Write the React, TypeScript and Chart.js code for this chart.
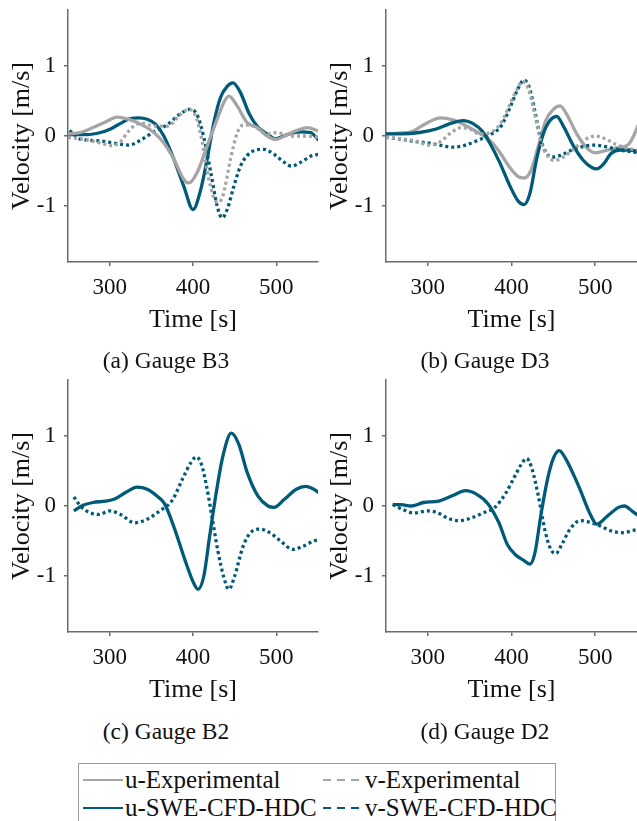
import React, { useEffect, useRef } from "react";
import { Chart, registerables } from "chart.js";
Chart.register(...registerables);

type Pt = [number, number];

const X_TICKS = [300, 400, 500];
const Y_TICKS = [-1, 0, 1];
const X_TITLE = "Time [s]";
const Y_TITLE = "Velocity [m/s]";

const TEAL = "#005a78";
const GRAY = "#a5a5a5";
const FONT = "'Liberation Serif', 'Times New Roman', serif";

// (a) Gauge B3
const A_U_EXP: Pt[] = [[250,0.03],[265,0.05],[280,0.12],[295,0.2],[309,0.27],[322,0.24],[337,0.17],[353,0.05],[365,-0.1],[377,-0.33],[389,-0.62],[395,-0.67],[405,-0.52],[417,-0.14],[429,0.24],[437,0.48],[443,0.57],[453,0.43],[465,0.19],[477,0.12],[489,0.0],[499,-0.05],[513,0.02],[525,0.08],[537,0.12],[551,0.07]];
const A_V_EXP: Pt[] = [[250,-0.02],[270,-0.05],[289,-0.1],[303,-0.14],[313,-0.08],[322,0.06],[331,0.16],[340,0.18],[353,0.14],[369,0.14],[385,0.31],[395,0.38],[404,0.26],[411,-0.08],[417,-0.5],[425,-0.88],[430,-0.95],[436,-0.85],[445,-0.33],[453,0.04],[461,0.16],[473,0.14],[489,0.03],[501,0.05],[517,0.0],[535,0.0],[551,-0.02]];
const A_U_SWE: Pt[] = [[250,0.02],[273,0.02],[289,0.05],[301,0.1],[313,0.18],[325,0.25],[335,0.26],[345,0.24],[355,0.17],[365,0.0],[377,-0.33],[389,-0.72],[400,-1.05],[409,-0.78],[417,-0.33],[425,0.19],[433,0.55],[441,0.71],[448,0.76],[457,0.62],[467,0.33],[477,0.14],[489,0.03],[499,-0.04],[513,0.02],[529,0.06],[541,0.05],[551,-0.06]];
const A_V_SWE: Pt[] = [[252,0.08],[262,-0.03],[275,-0.06],[289,-0.07],[305,-0.1],[323,-0.13],[337,-0.06],[353,0.06],[369,0.16],[385,0.32],[396,0.38],[405,0.3],[413,-0.02],[421,-0.5],[429,-1.0],[435,-1.17],[441,-1.05],[449,-0.72],[457,-0.43],[465,-0.28],[475,-0.2],[485,-0.19],[497,-0.26],[510,-0.38],[518,-0.43],[530,-0.37],[541,-0.29],[551,-0.26]];

// (b) Gauge D3
const B_U_EXP: Pt[] = [[250,0.03],[265,0.04],[280,0.06],[298,0.18],[315,0.26],[330,0.23],[345,0.15],[360,0.05],[375,-0.07],[387,-0.25],[398,-0.45],[408,-0.58],[415,-0.6],[423,-0.5],[432,-0.15],[441,0.22],[450,0.38],[458,0.43],[466,0.31],[478,0.03],[490,-0.17],[500,-0.24],[515,-0.2],[530,-0.16],[540,-0.12],[546,0.0],[552,0.17]];
const B_V_EXP: Pt[] = [[250,-0.02],[268,-0.04],[285,-0.07],[302,-0.13],[315,-0.08],[328,0.05],[340,0.12],[350,0.1],[362,0.03],[375,0.05],[388,0.2],[398,0.45],[406,0.65],[413,0.78],[420,0.68],[428,0.3],[435,-0.08],[443,-0.28],[452,-0.35],[462,-0.3],[475,-0.18],[488,-0.05],[500,0.0],[512,-0.04],[525,-0.12],[540,-0.18],[552,-0.2]];
const B_U_SWE: Pt[] = [[250,0.03],[270,0.03],[290,0.05],[310,0.1],[325,0.17],[342,0.22],[355,0.17],[365,0.07],[374,-0.1],[386,-0.38],[398,-0.71],[408,-0.93],[415,-0.98],[422,-0.82],[430,-0.33],[438,0.03],[446,0.22],[454,0.28],[462,0.14],[474,-0.14],[486,-0.35],[496,-0.45],[502,-0.47],[510,-0.4],[519,-0.25],[530,-0.2],[540,-0.2],[552,-0.22]];
const B_V_SWE: Pt[] = [[250,-0.02],[265,-0.04],[280,-0.07],[300,-0.1],[318,-0.14],[330,-0.16],[345,-0.13],[360,-0.06],[375,0.02],[388,0.15],[398,0.4],[408,0.68],[415,0.8],[421,0.7],[428,0.35],[435,-0.05],[442,-0.25],[450,-0.3],[460,-0.27],[472,-0.2],[486,-0.15],[500,-0.13],[515,-0.16],[530,-0.2],[540,-0.22],[552,-0.24]];

// (c) Gauge B2
const C_U_SWE: Pt[] = [[257,-0.07],[268,0.01],[280,0.05],[295,0.07],[306,0.1],[320,0.2],[333,0.27],[345,0.24],[356,0.15],[366,0.03],[378,-0.33],[390,-0.76],[400,-1.08],[406,-1.19],[413,-1.0],[420,-0.43],[428,0.2],[436,0.72],[446,1.04],[455,0.88],[465,0.48],[478,0.14],[490,0.0],[497,-0.02],[510,0.1],[524,0.24],[535,0.28],[545,0.24],[552,0.18]];
const C_V_SWE: Pt[] = [[257,0.13],[265,0.0],[275,-0.09],[287,-0.12],[300,-0.07],[313,-0.12],[330,-0.24],[345,-0.19],[360,-0.07],[375,0.08],[388,0.4],[398,0.63],[404,0.7],[410,0.6],[416,0.3],[422,-0.1],[430,-0.65],[437,-1.02],[443,-1.19],[450,-1.0],[460,-0.58],[470,-0.37],[481,-0.33],[492,-0.38],[505,-0.5],[520,-0.62],[533,-0.57],[545,-0.5],[552,-0.48]];

// (d) Gauge D2
const D_U_SWE: Pt[] = [[258,0.02],[268,0.02],[280,0.0],[295,0.05],[313,0.07],[330,0.15],[345,0.22],[358,0.17],[372,0.03],[385,-0.24],[395,-0.55],[405,-0.7],[415,-0.78],[422,-0.83],[428,-0.67],[435,-0.14],[443,0.38],[450,0.68],[457,0.79],[465,0.67],[480,0.29],[495,-0.14],[502,-0.26],[515,-0.14],[528,-0.02],[535,0.0],[545,-0.08],[552,-0.14]];
const D_V_SWE: Pt[] = [[258,0.02],[270,-0.05],[283,-0.1],[300,-0.07],[312,-0.1],[325,-0.18],[338,-0.21],[352,-0.17],[366,-0.1],[380,-0.02],[393,0.18],[405,0.45],[412,0.6],[418,0.68],[424,0.55],[432,0.15],[440,-0.35],[447,-0.62],[453,-0.68],[460,-0.55],[470,-0.33],[482,-0.21],[493,-0.23],[505,-0.28],[520,-0.36],[533,-0.38],[545,-0.35],[552,-0.33]];

const LEGEND_LABELS = ["u-Experimental", "v-Experimental", "u-SWE-CFD-HDC", "v-SWE-CFD-HDC"];

type Series = { data: Pt[]; color: string; dotted: boolean };

function Panel(props: { left: number; top: number; width: number; padRight: number; series: Series[] }) {
  const ref = useRef<HTMLCanvasElement>(null);
  useEffect(() => {
    const axisColor = "#6b6b6b";
    const chart = new Chart(ref.current!, {
      type: "line",
      data: {
        datasets: props.series.map((s) => ({
          data: s.data.map(([x, y]) => ({ x, y })),
          borderColor: s.color,
          borderWidth: 3.3,
          borderDash: s.dotted ? [3, 3] : [],
          borderCapStyle: "butt",
          pointRadius: 0,
          cubicInterpolationMode: "monotone",
          fill: false,
        })),
      },
      options: {
        animation: false,
        responsive: false,
        events: [],
        layout: { padding: { top: 10, right: props.padRight, left: 0, bottom: 0 } },
        plugins: { legend: { display: false }, tooltip: { enabled: false } },
        scales: {
          x: {
            type: "linear",
            min: 250,
            max: 550,
            afterBuildTicks: (s: any) => { s.ticks = X_TICKS.map((v) => ({ value: v })); },
            afterFit: (s: any) => { s.height = 78; s.paddingLeft = 0; s.paddingRight = 0; },
            ticks: { font: { family: FONT, size: 23 }, color: "#111", padding: 8, maxRotation: 0 },
            grid: { drawOnChartArea: false, drawTicks: true, tickLength: 4, color: axisColor, lineWidth: 1.5 },
            border: { display: true, color: axisColor, width: 1.5 },
            title: { display: true, text: X_TITLE, font: { family: FONT, size: 26 }, color: "#111", padding: { top: 0, bottom: 4 } },
          },
          y: {
            type: "linear",
            min: -1.8,
            max: 1.8,
            afterBuildTicks: (s: any) => { s.ticks = Y_TICKS.map((v) => ({ value: v })); },
            afterFit: (s: any) => { s.width = 68; s.paddingTop = 0; s.paddingBottom = 0; },
            ticks: { font: { family: FONT, size: 23 }, color: "#111", padding: 8, callback: (v: any) => String(v) },
            grid: { drawOnChartArea: false, drawTicks: true, tickLength: 4, color: axisColor, lineWidth: 1.5 },
            border: { display: true, color: axisColor, width: 1.5 },
            title: { display: true, text: Y_TITLE, font: { family: FONT, size: 26 }, color: "#111", padding: { top: 7, bottom: 0 } },
          },
        },
      } as any,
    });
    return () => chart.destroy();
  }, []);
  return (
    <canvas
      ref={ref}
      width={props.width}
      height={340}
      style={{ position: "absolute", left: props.left, top: props.top, width: props.width, height: 340 }}
    />
  );
}

function Caption(props: { cx: number; cy: number; text: string }) {
  return (
    <div
      style={{
        position: "absolute",
        left: props.cx - 150,
        top: props.cy - 14,
        width: 300,
        height: 28,
        lineHeight: "28px",
        textAlign: "center",
        fontFamily: FONT,
        fontSize: 23.5,
        color: "#111",
        whiteSpace: "nowrap",
      }}
    >
      {props.text}
    </div>
  );
}

function LegendItem(props: { x: number; y: number; color: string; dashed: boolean; label: string }) {
  return (
    <div style={{ position: "absolute", left: props.x, top: props.y - 15, height: 30, display: "flex", alignItems: "center", whiteSpace: "nowrap" }}>
      <svg width={40} height={4} style={{ display: "block" }}>
        <line x1={0} y1={2} x2={40} y2={2} stroke={props.color} strokeWidth={2} strokeDasharray={props.dashed ? "8 6" : undefined} />
      </svg>
      <span style={{ fontFamily: FONT, fontSize: 25, color: "#111", marginLeft: 2, lineHeight: "30px" }}>{props.label}</span>
    </div>
  );
}

export default function App() {
  const sA: Series[] = [
    { data: A_U_EXP, color: GRAY, dotted: false },
    { data: A_V_EXP, color: GRAY, dotted: true },
    { data: A_V_SWE, color: TEAL, dotted: true },
    { data: A_U_SWE, color: TEAL, dotted: false },
  ];
  const sB: Series[] = [
    { data: B_V_EXP, color: GRAY, dotted: true },
    { data: B_V_SWE, color: TEAL, dotted: true },
    { data: B_U_SWE, color: TEAL, dotted: false },
    { data: B_U_EXP, color: GRAY, dotted: false },
  ];
  const sC: Series[] = [
    { data: C_V_SWE, color: TEAL, dotted: true },
    { data: C_U_SWE, color: TEAL, dotted: false },
  ];
  const sD: Series[] = [
    { data: D_V_SWE, color: TEAL, dotted: true },
    { data: D_U_SWE, color: TEAL, dotted: false },
  ];
  return (
    <div style={{ position: "absolute", left: 0, top: 0, width: 637, height: 821, overflow: "hidden", background: "#fff" }}>
      <Panel left={0} top={0} width={320} padRight={2} series={sA} />
      <Panel left={318} top={0} width={319} padRight={0} series={sB} />
      <Panel left={0} top={370} width={320} padRight={2} series={sC} />
      <Panel left={318} top={370} width={319} padRight={0} series={sD} />
      <Caption cx={166} cy={360} text="(a) Gauge B3" />
      <Caption cx={485} cy={360} text="(b) Gauge D3" />
      <Caption cx={166} cy={731} text="(c) Gauge B2" />
      <Caption cx={485} cy={731} text="(d) Gauge D2" />
      <div style={{ position: "absolute", left: 78, top: 763, width: 478, height: 80, border: "1.5px solid #9a9a9a", boxSizing: "border-box" }} />
      <LegendItem x={83} y={780} color={GRAY} dashed={false} label={LEGEND_LABELS[0]} />
      <LegendItem x={323} y={780} color={GRAY} dashed={true} label={LEGEND_LABELS[1]} />
      <LegendItem x={83} y={808} color={TEAL} dashed={false} label={LEGEND_LABELS[2]} />
      <LegendItem x={323} y={808} color={TEAL} dashed={true} label={LEGEND_LABELS[3]} />
    </div>
  );
}
